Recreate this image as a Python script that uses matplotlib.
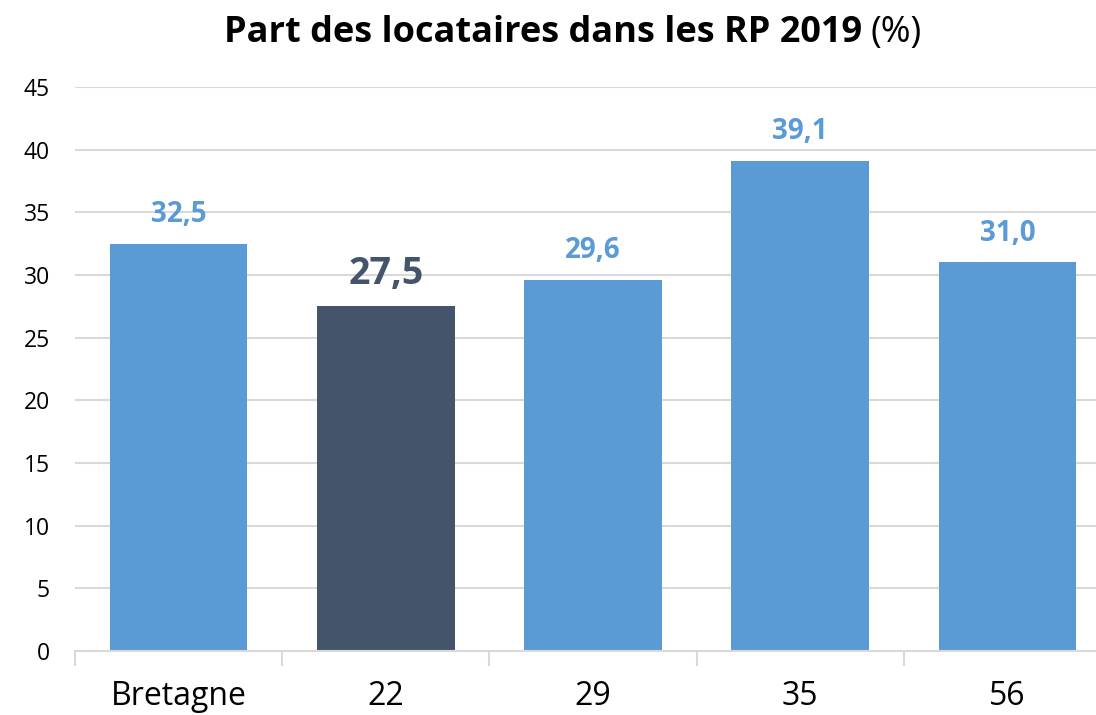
import matplotlib
matplotlib.use("Agg")
import matplotlib.pyplot as plt

categories = ["Bretagne", "22", "29", "35", "56"]
values = [32.5, 27.5, 29.6, 39.1, 31.0]
labels = ["32,5", "27,5", "29,6", "39,1", "31,0"]
highlight = "22"

BLUE = "#5B9BD5"
DARK = "#44546A"
GRID = "#D9D9D9"
FONT = "Open Sans"

W, H = 1096, 715
fig = plt.figure(figsize=(W / 100, H / 100), dpi=100)
left, right, bottom, top = 75, 1111, 651, 87
ax = fig.add_axes([left / W, 1 - bottom / H, (right - left) / W, (bottom - top) / H])

x = list(range(len(categories)))
colors = [DARK if c == highlight else BLUE for c in categories]
ax.bar(x, values, width=0.665, color=colors, zorder=3)

ax.set_xlim(-0.5, len(categories) - 0.5)
ax.set_ylim(0, 45)
ax.set_yticks(range(0, 46, 5))
ax.set_yticklabels([str(v) for v in range(0, 46, 5)], fontsize=16.5, family=FONT)
ax.yaxis.grid(True, color=GRID, linewidth=1.5, zorder=0)
ax.set_axisbelow(True)
ax.tick_params(axis="y", length=0, pad=18)

ax.set_xticks(x)
ax.set_xticklabels(categories, fontsize=23, family=FONT)
ax.set_xticks([i - 0.5 for i in range(len(categories) + 1)], minor=True)
ax.tick_params(axis="x", which="major", length=0, pad=21)
ax.tick_params(axis="x", which="minor", length=11, width=1.5, color=GRID)

for s in ["top", "right", "left"]:
    ax.spines[s].set_visible(False)
ax.spines["bottom"].set_color(GRID)
ax.spines["bottom"].set_linewidth(1.5)
ax.spines["bottom"].set_zorder(4)

for xi, v, lab, c in zip(x, values, labels, categories):
    if c == highlight:
        ax.annotate(lab, (xi, v), xytext=(0, 23), textcoords="offset points",
                    ha="center", va="center", fontsize=27, fontweight="bold",
                    color=DARK, family=FONT)
    else:
        ax.annotate(lab, (xi, v), xytext=(0, 21), textcoords="offset points",
                    ha="center", va="center", fontsize=20, fontweight="bold",
                    color=BLUE, family=FONT)

# Title: bold part + regular "(%)"
title_bold = "Part des locataires dans les RP 2019"
title_reg = "(%)"
cx, cy = 573 / W, 1 - 33 / H
t1 = fig.text(0, cy, title_bold, fontsize=26, fontweight="bold", family=FONT,
              ha="left", va="center")
t2 = fig.text(0, cy, title_reg, fontsize=26, family=FONT, ha="left", va="center")
fig.canvas.draw()
r = fig.canvas.get_renderer()
w1 = t1.get_window_extent(r).width / W
w2 = t2.get_window_extent(r).width / W
gap = 9 / W
total = w1 + gap + w2
x0 = cx - total / 2
t1.set_x(x0)
t2.set_x(x0 + w1 + gap)

fig.savefig("out.png", dpi=100)
